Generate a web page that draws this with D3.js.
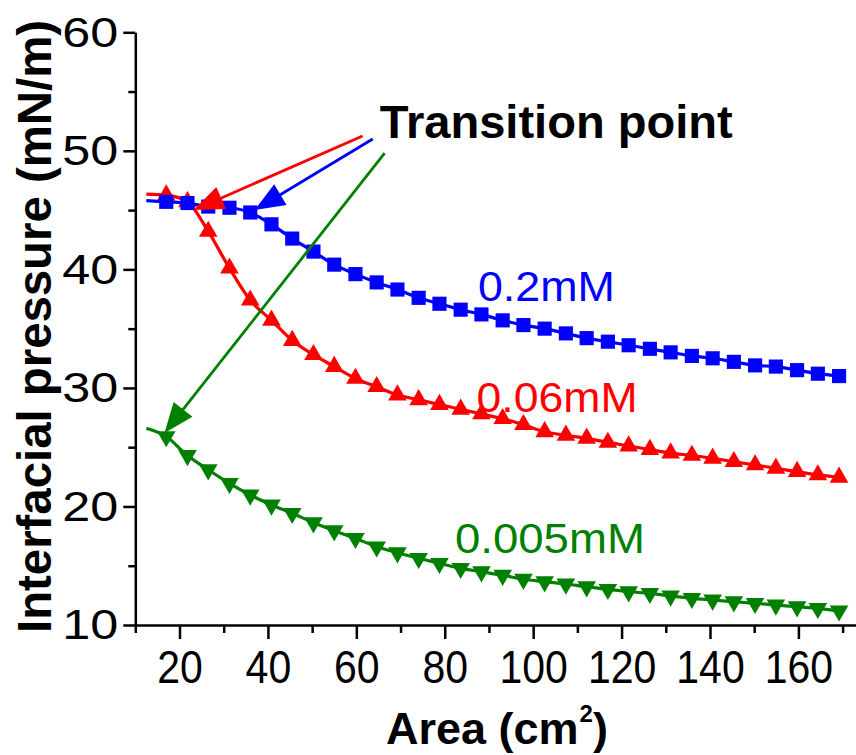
<!DOCTYPE html>
<html>
<head>
<meta charset="utf-8">
<script src="https://cdn.jsdelivr.net/npm/d3@7"></script>
<style>
  html, body { margin: 0; padding: 0; background: #fff; }
  svg { display: block; font-family: 'Liberation Sans', Arial, sans-serif; }
</style>
</head>
<body>
<div id="chart"></div>
<script>
//
// DATA
//

// area (cm2), same for all three runs
const area = [17.0, 21.8, 26.5, 31.3, 36.0, 40.8, 45.5, 50.3, 55.0, 59.8, 64.6,
    69.3, 74.1, 78.8, 83.6, 88.3, 93.1, 97.8, 102.6, 107.4, 112.1, 116.9, 121.6,
    126.4, 131.1, 135.9, 140.6, 145.4, 150.2, 154.9, 159.7, 164.4, 169.2];

// interfacial pressure (mN/m)
const blue = [45.7, 45.6, 45.3, 45.2, 44.8, 43.8, 42.6, 41.5, 40.4, 39.6, 38.9,
    38.3, 37.6, 37.1, 36.6, 36.2, 35.7, 35.3, 35.0, 34.6, 34.2, 33.9, 33.6,
    33.3, 33.0, 32.7, 32.5, 32.2, 31.9, 31.8, 31.5, 31.2, 31.0];
const red = [46.27, 45.7, 43.2, 40.1, 37.4, 35.7, 34.0, 32.8, 31.8, 30.8, 30.1,
    29.4, 29.0, 28.6, 28.2, 27.8, 27.4, 26.9, 26.3, 26.0, 25.75, 25.4, 25.1,
    24.8, 24.5, 24.3, 24.06, 23.78, 23.5, 23.22, 22.94, 22.66, 22.46];
const green = [25.9, 24.3, 23.1, 21.95, 20.97, 20.13, 19.42, 18.63, 17.96, 17.31,
    16.6, 16.1, 15.63, 15.2, 14.78, 14.5, 14.2, 13.86, 13.65, 13.46, 13.23, 13.01,
    12.81, 12.67, 12.45, 12.25, 12.11, 11.97, 11.83, 11.69, 11.54, 11.41, 11.2];

// fitted curves start a little left of the first point
const headArea = 12.5;
const headBlue = 45.8;
const headRed = 46.35;
const headGreen = 26.6;

// ticks
const xTicks = [20, 40, 60, 80, 100, 120, 140, 160];
const xMinor = [10, 30, 50, 70, 90, 110, 130, 150, 170];
const yTicks = [10, 20, 30, 40, 50, 60];
const yMinor = [15, 25, 35, 45, 55];

// labels
const seriesNames = ['0.2mM', '0.06mM', '0.005mM'];
const labelArea = [87.5, 87.2, 82.3];
const labelPressure = [37.3, 28.0, 16.05];

// transition point arrows: red, blue, green
const arrowFrom = [[61.4, 51.25], [63.7, 51.0], [66.4, 49.8]];
const arrowTo = [[23.2, 45.0], [37.0, 45.0], [16.6, 26.2]];
const noteAt = [65.3, 51.06];

//
// CHART
//

const width = 856;
const height = 755;

const svg = d3.select('#chart')
    .append('svg')
        .attr('width', width)
        .attr('height', height);

const x = d3.scaleLinear()
    .domain([10, 174])
    .range([135.3, 860.3]);
const y = d3.scaleLinear()
    .domain([10, 60])
    .range([625, 32.3]);

const colors = {blue: '#0000ff', red: '#ff0000', green: '#008000'};

// axes
const x0 = y(10);
const y0 = x(10);

svg.append('g')
    .attr('transform', `translate(0,${x0})`)
    .call(d3.axisBottom(x).tickValues(xMinor).tickSize(8).tickSizeOuter(0).tickFormat(''))
    .call(g => g.select('.domain').remove())
    .call(g => g.selectAll('.tick line').attr('stroke-width', 2.5));

svg.append('g')
    .attr('transform', `translate(0,${x0})`)
    .call(d3.axisBottom(x).tickValues(xTicks).tickSize(14).tickPadding(11).tickSizeOuter(0))
    .call(g => g.select('.domain').attr('stroke-width', 2.5))
    .call(g => g.selectAll('.tick line').attr('stroke-width', 2.5))
    .call(g => g.selectAll('.tick text')
        .attr('font-size', 47)
        .attr('font-family', "'Liberation Sans', Arial, sans-serif")
        .attr('fill', '#000')
        .attr('textLength', d => String(d).length * 22.8)
        .attr('lengthAdjust', 'spacingAndGlyphs'));

svg.append('g')
    .attr('transform', `translate(${y0},0)`)
    .call(d3.axisLeft(y).tickValues(yMinor).tickSize(7).tickSizeOuter(0).tickFormat(''))
    .call(g => g.select('.domain').remove())
    .call(g => g.selectAll('.tick line').attr('stroke-width', 2.5));

svg.append('g')
    .attr('transform', `translate(${y0},0)`)
    .call(d3.axisLeft(y).tickValues(yTicks).tickSize(12).tickPadding(5).tickSizeOuter(0))
    .call(g => g.select('.domain').attr('stroke-width', 2.5))
    .call(g => g.selectAll('.tick line').attr('stroke-width', 2.5))
    .call(g => g.selectAll('.tick text')
        .attr('font-size', 43)
        .attr('font-family', "'Liberation Sans', Arial, sans-serif")
        .attr('fill', '#000')
        .attr('textLength', d => String(d).length * 28)
        .attr('lengthAdjust', 'spacingAndGlyphs'));

// axis titles
svg.append('text')
    .attr('transform', `translate(51,${326.5}) rotate(-90)`)
    .attr('text-anchor', 'middle')
    .attr('font-size', 48)
    .attr('font-weight', 'bold')
    .attr('textLength', 613)
    .attr('lengthAdjust', 'spacingAndGlyphs')
    .text('Interfacial pressure (mN/m)');

const xTitle = svg.append('text')
    .attr('x', 386)
    .attr('y', 744)
    .attr('font-size', 45)
    .attr('font-weight', 'bold');
xTitle.append('tspan').text('Area (cm');
xTitle.append('tspan')
    .attr('font-size', 24)
    .attr('dx', 1)
    .attr('dy', -22)
    .text('2');
xTitle.append('tspan')
    .attr('dy', 22)
    .text(')');

// series
const series = [
    {vals: green, head: headGreen, color: colors.green, shape: d3.symbolTriangle, size: 150, rot: 180},
    {vals: red, head: headRed, color: colors.red, shape: d3.symbolTriangle, size: 150, rot: 0},
    {vals: blue, head: headBlue, color: colors.blue, shape: d3.symbolSquare, size: 200, rot: 0}
];

const line = d3.line()
    .x(d => x(d[0]))
    .y(d => y(d[1]))
    .curve(d3.curveMonotoneX);

series.forEach(s => {
    const pts = [[headArea, s.head]].concat(area.map((a, i) => [a, s.vals[i]]));
    svg.append('path')
        .datum(pts)
        .attr('fill', 'none')
        .attr('stroke', s.color)
        .attr('stroke-width', 3.2)
        .attr('d', line);
    svg.append('g')
        .selectAll('path')
        .data(s.vals)
        .join('path')
            .attr('d', d3.symbol().type(s.shape).size(s.size))
            .attr('transform', (d, i) => `translate(${x(area[i])},${y(d)}) rotate(${s.rot})`)
            .attr('fill', s.color);
});

// series labels
const labelColors = [colors.blue, colors.red, colors.green];
const labelWidths = [137, 161, 190];
svg.append('g')
    .selectAll('text')
    .data(seriesNames)
    .join('text')
        .attr('x', (d, i) => x(labelArea[i]))
        .attr('y', (d, i) => y(labelPressure[i]))
        .attr('font-size', 43)
        .attr('fill', (d, i) => labelColors[i])
        .attr('textLength', (d, i) => labelWidths[i])
        .attr('lengthAdjust', 'spacingAndGlyphs')
        .text(d => d);

// transition point arrows
const arrowColors = [colors.red, colors.blue, colors.green];
arrowFrom.forEach((f, i) => {
    const ax = x(f[0]), ay = y(f[1]);
    const bx = x(arrowTo[i][0]), by = y(arrowTo[i][1]);
    const len = Math.hypot(bx - ax, by - ay);
    const ux = (bx - ax) / len, uy = (by - ay) / len;
    const hl = 30, hw = 12;
    const cx = bx - ux * hl, cy = by - uy * hl;
    svg.append('line')
        .attr('x1', ax).attr('y1', ay)
        .attr('x2', cx + ux * 4).attr('y2', cy + uy * 4)
        .attr('stroke', arrowColors[i])
        .attr('stroke-width', 2.8);
    svg.append('path')
        .attr('d', `M${bx},${by}L${cx - uy * hw},${cy + ux * hw}L${cx + uy * hw},${cy - ux * hw}Z`)
        .attr('fill', arrowColors[i]);
});

svg.append('text')
    .attr('x', x(noteAt[0]))
    .attr('y', y(noteAt[1]))
    .attr('font-size', 46)
    .attr('font-weight', 'bold')
    .attr('textLength', 353)
    .attr('lengthAdjust', 'spacingAndGlyphs')
    .text('Transition point');
</script>
</body>
</html>
